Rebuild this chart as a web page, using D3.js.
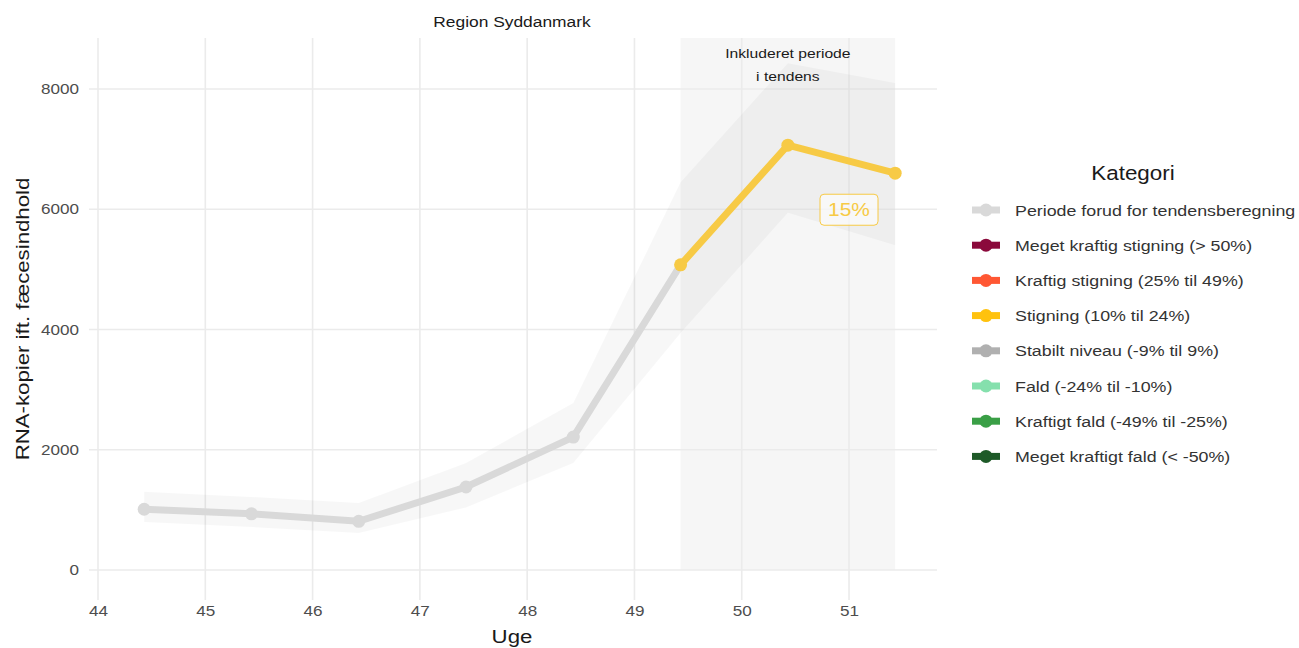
<!DOCTYPE html>
<html><head><meta charset="utf-8">
<script src="https://cdn.jsdelivr.net/npm/d3@7"></script>
<style>body{margin:0;background:#fff}svg{display:block;font-family:"Liberation Sans",Arial,sans-serif}</style>
</head><body><svg id="c" width="1299" height="648"></svg>
<script>
const weeks = [44.43, 45.43, 46.43, 47.43, 48.43, 49.43, 50.43, 51.43];
const values = [1010, 935, 810, 1380, 2210, 5075, 7065, 6600];
const lower = [800, 715, 615, 1040, 1780, 3940, 5940, 5400];
const upper = [1300, 1215, 1115, 1780, 2777, 6450, 8430, 8100];
const trendStartIndex = 5;
const xTicks = [44, 45, 46, 47, 48, 49, 50, 51];
const yTicks = [0, 2000, 4000, 6000, 8000];
const legendLabels = ["Periode forud for tendensberegning","Meget kraftig stigning (> 50%)","Kraftig stigning (25% til 49%)","Stigning (10% til 24%)","Stabilt niveau (-9% til 9%)","Fald (-24% til -10%)","Kraftigt fald (-49% til -25%)","Meget kraftigt fald (< -50%)"];
const legendColors = ["#d9d9d9","#8b0a3c","#ff5733","#ffc20e","#b0b0b0","#85e0ad","#3a9f46","#1e5a28"];
const trendLabel = "15%";
const trendLabelPos = [51.0, 6000];

const SX = 1.15;
const svg = d3.select("#c");
const x = d3.scaleLinear().domain([43.916, 51.82]).range([89, 937]);
const y = d3.scaleLinear().domain([-499, 8848]).range([600, 38]);
const grid = "#ebebeb";

function txt(parent, px, py, str, size, color, anchor, sx, rot) {
  return parent.append("text")
    .attr("transform", `translate(${px},${py})` + (rot ? ` rotate(${rot})` : "") + ` scale(${sx || SX},1)`)
    .attr("text-anchor", anchor || "middle").attr("font-size", size).attr("fill", color).text(str);
}

// shaded trend period
svg.append("rect").attr("x", x(weeks[trendStartIndex])).attr("width", x(weeks[7]) - x(weeks[trendStartIndex]))
  .attr("y", y.range()[1]).attr("height", y(0) - y.range()[1]).attr("fill", "#f6f6f6");

// grid
svg.append("g").selectAll("line").data(yTicks).join("line")
  .attr("x1", 89).attr("x2", 937).attr("y1", d => y(d)).attr("y2", d => y(d))
  .attr("stroke", grid).attr("stroke-width", 1.6);
svg.append("g").selectAll("line").data(xTicks).join("line")
  .attr("x1", d => x(d)).attr("x2", d => x(d)).attr("y1", 38).attr("y2", 600)
  .attr("stroke", grid).attr("stroke-width", 1.6);

// band
const area = d3.area().x((d, i) => x(weeks[i])).y0((d, i) => y(lower[i])).y1((d, i) => y(upper[i]));
svg.append("path").datum(weeks).attr("d", area).attr("fill", "#000").attr("fill-opacity", 0.03);

// lines
const line = d3.line().x(d => x(d[0])).y(d => y(d[1]));
const pts = weeks.map((w, i) => [w, values[i]]);
const pre = pts.slice(0, trendStartIndex + 1), post = pts.slice(trendStartIndex);
svg.append("path").datum(pre).attr("d", line).attr("fill", "none").attr("stroke", legendColors[0]).attr("stroke-width", 7);
svg.selectAll("circle.pre").data(pre.slice(0, trendStartIndex)).join("circle").attr("class","pre")
  .attr("cx", d => x(d[0])).attr("cy", d => y(d[1])).attr("r", 6.5).attr("fill", legendColors[0]);
svg.append("path").datum(post).attr("d", line).attr("fill", "none").attr("stroke", "#f7ca45").attr("stroke-width", 7);
svg.selectAll("circle.post").data(post).join("circle").attr("class","post")
  .attr("cx", d => x(d[0])).attr("cy", d => y(d[1])).attr("r", 6.5).attr("fill", "#f7ca45");

// label box
const lg = svg.append("g").attr("transform", `translate(${x(trendLabelPos[0])},${y(trendLabelPos[1])})`);
lg.append("rect").attr("x", -29).attr("y", -15).attr("width", 58).attr("height", 31).attr("rx", 4)
  .attr("fill", "#fff").attr("fill-opacity", 0.6).attr("stroke", "#f7ca45").attr("stroke-width", 1);
txt(lg, 0, 7, trendLabel, 19, "#f7ca45", "middle", 1.1);

// annotation
txt(svg, x(50.43), 58, "Inkluderet periode", 13.5, "#1a1a1a", "middle", 1.16);
txt(svg, x(50.43), 81, "i tendens", 13.5, "#1a1a1a", "middle", 1.16);

// axes
const xa = svg.append("g").attr("transform", "translate(0,600)").call(d3.axisBottom(x).tickValues(xTicks).tickSize(0).tickPadding(6));
const ya = svg.append("g").attr("transform", "translate(89,0)").call(d3.axisLeft(y).tickValues(yTicks).tickSize(0).tickPadding(10).tickFormat(d3.format("d")));
[xa, ya].forEach(a => {
  a.select(".domain").remove();
  a.selectAll("text").attr("font-size", 14.5).attr("fill", "#4d4d4d").attr("font-family", '"Liberation Sans",Arial,sans-serif')
    .attr("x", function() { return (+this.getAttribute("x") || 0) / 1.18; })
    .attr("transform", "scale(1.18,1)");
});

txt(svg, 512, 643, "Uge", 19, "#1a1a1a", "middle", 1.17);
txt(svg, 29, 319, "RNA-kopier ift. fæcesindhold", 19, "#1a1a1a", "middle", 1.17, -90);
txt(svg, 512, 27, "Region Syddanmark", 14.5, "#1a1a1a", "middle", 1.2);

// legend
txt(svg, 1133, 180, "Kategori", 19.5, "#1a1a1a", "middle", 1.15);
const leg = svg.append("g").selectAll("g").data(legendLabels).join("g").attr("transform", (d, i) => `translate(972,${210 + i * 35.2})`);
leg.append("line").attr("x1", 0).attr("x2", 28).attr("stroke", (d, i) => legendColors[i]).attr("stroke-width", 7);
leg.append("circle").attr("cx", 14).attr("r", 6.5).attr("fill", (d, i) => legendColors[i]);
leg.each(function(d) { txt(d3.select(this), 43, 5.5, d, 15.5, "#333", "start", 1.15); });
</script></body></html>
